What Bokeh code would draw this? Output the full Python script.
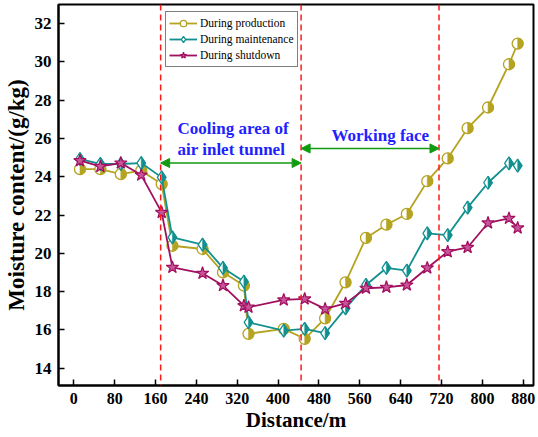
import math

from bokeh.plotting import figure
from bokeh.models import Span, Arrow, NormalHead, Legend, LegendItem, Label, FixedTicker
from bokeh.embed import file_html
from bokeh.resources import INLINE

# Measuring stations along the airway (m) and moisture content (g/kg)
distance = [12, 52, 92, 132, 172, 193, 252, 292, 333, 342, 411, 452, 492,
            532, 572, 612, 652, 692, 732, 771, 811, 852, 869]
production = [24.40, 24.40, 24.14, 24.32, 23.62, 20.40, 20.23, 19.01, 18.32,
              15.80, 16.06, 15.54, 16.61, 18.49, 20.81, 21.50, 22.06, 23.77,
              24.96, 26.54, 27.62, 29.88, 30.96]
maintenance = [24.93, 24.67, 24.67, 24.72, 23.97, 20.84, 20.46, 19.24, 18.53,
               16.40, 15.97, 16.06, 15.83, 17.13, 18.35, 19.24, 19.10, 21.05,
               20.95, 22.39, 23.69, 24.70, 24.58]
shutdown = [24.84, 24.54, 24.72, 24.09, 22.14, 19.27, 18.96, 18.32, 17.27,
            17.19, 17.57, 17.62, 17.10, 17.39, 18.18, 18.23, 18.35, 19.24,
            20.09, 20.31, 21.59, 21.83, 21.33]

series_names = ["During production", "During maintenance", "During shutdown"]
x_ticks = list(range(0, 881, 80))
y_ticks = list(range(14, 33, 2))

# Zone boundaries (m): cooling area of air inlet tunnel, working face
zone_bounds = [170, 445, 715]

X_RANGE = (-30, 900)
Y_RANGE = (13.1, 33.0)
FRAME_W, FRAME_H = 475, 381

FONT = "Liberation Serif"
OLIVE = "#b5a322"
TEAL = "#11908f"
MAGENTA = "#a1105f"
RED = "#ff1a1a"
GREEN = "#109a10"
BLUE = "#1f1fff"

p = figure(frame_width=FRAME_W, frame_height=FRAME_H,
           x_range=X_RANGE, y_range=Y_RANGE,
           output_backend="svg", toolbar_location=None,
           min_border_left=57, min_border_right=6,
           min_border_top=4, min_border_bottom=52,
           background_fill_color="white", border_fill_color="white")

p.grid.visible = False
p.outline_line_color = "black"
p.outline_line_width = 2
p.outline_line_alpha = 1

for ax in (p.xaxis[0], p.yaxis[0]):
    ax.axis_line_width = 2
    ax.major_tick_line_width = 1.5
    ax.major_tick_in = 6
    ax.major_tick_out = 0
    ax.minor_tick_line_color = None
    ax.major_label_text_font = FONT
    ax.major_label_text_font_style = "bold"
    ax.major_label_text_color = "black"
    ax.axis_label_text_font = FONT
    ax.axis_label_text_font_style = "bold"
    ax.axis_label_text_color = "black"

p.xaxis.ticker = FixedTicker(ticks=x_ticks)
p.yaxis.ticker = FixedTicker(ticks=y_ticks)
p.xaxis.major_label_text_font_size = "16px"
p.yaxis.major_label_text_font_size = "17px"
p.xaxis.major_label_standoff = 7
p.yaxis.major_label_standoff = 7
p.xaxis.axis_label = "Distance/m"
p.yaxis.axis_label = "Moisture content/(g/kg)"
p.xaxis.axis_label_text_font_size = "21px"
p.yaxis.axis_label_text_font_size = "23px"
p.xaxis.axis_label_standoff = 1
p.yaxis.axis_label_standoff = 3

# Zone boundary lines
for xb in zone_bounds:
    p.add_layout(Span(location=xb, dimension="height", line_color=RED,
                      line_width=1.5, line_dash="6 4"))

# Pixel scale, used to size the half-filled diamond markers
kx = FRAME_W / (X_RANGE[1] - X_RANGE[0])
ky = FRAME_H / (Y_RANGE[1] - Y_RANGE[0])

# During production: circles with right half filled
l_prod = p.line(distance, production, line_color=OLIVE, line_width=1.8)
m_prod = p.scatter(distance, production, marker="circle", size=11,
                   fill_color="white", line_color=OLIVE, line_width=1.3)
p.wedge(distance, production, radius=5.5, radius_units="screen",
        start_angle=-math.pi / 2, end_angle=math.pi / 2,
        fill_color=OLIVE, line_color=OLIVE, line_width=0.5)

# During maintenance: diamonds with right half filled
DIAMOND = 13
dh = (DIAMOND / 2) / ky
dw = (DIAMOND / 2 / 1.5) / kx
l_main = p.line(distance, maintenance, line_color=TEAL, line_width=1.8)
m_main = p.scatter(distance, maintenance, marker="diamond", size=DIAMOND,
                   fill_color="white", line_color=TEAL, line_width=1.3)
p.patches([[x, x + dw, x] for x in distance],
          [[y + dh, y, y - dh] for y in maintenance],
          fill_color=TEAL, line_color=TEAL, line_width=0.5)

# During shutdown: stars
l_shut = p.line(distance, shutdown, line_color=MAGENTA, line_width=1.8)
m_shut = p.scatter(distance, shutdown, marker="star", size=13,
                   fill_color="#c8559a", line_color=MAGENTA, line_width=1.2)

# Zone arrows
arrow_y = [24.72, 25.48]
for (x0, x1), ya in zip([(zone_bounds[0], zone_bounds[1]),
                         (zone_bounds[1], zone_bounds[2])], arrow_y):
    p.add_layout(Arrow(
        start=NormalHead(size=9, fill_color=GREEN, line_color=GREEN, line_width=1),
        end=NormalHead(size=9, fill_color=GREEN, line_color=GREEN, line_width=1),
        x_start=x0, y_start=ya, x_end=x1, y_end=ya,
        line_color=GREEN, line_width=1.5))

zone_text = [("Cooling area of", 203, 26.51, "left"),
             ("air inlet tunnel", 203, 25.41, "left"),
             ("Working face", 600, 26.14, "center")]
for txt, tx, ty, al in zone_text:
    p.add_layout(Label(x=tx, y=ty, text=txt, text_align=al,
                       text_baseline="middle", text_font=FONT,
                       text_font_style="bold", text_font_size="17px",
                       text_color=BLUE))

legend = Legend(items=[
    LegendItem(label=series_names[0], renderers=[l_prod, m_prod]),
    LegendItem(label=series_names[1], renderers=[l_main, m_main]),
    LegendItem(label=series_names[2], renderers=[l_shut, m_shut]),
], location=(107, 318))
legend.margin = 0
legend.padding = 3
legend.spacing = -2
legend.glyph_width = 28
legend.glyph_height = 16
legend.label_height = 14
legend.label_standoff = 3
legend.label_text_font = FONT
legend.label_text_font_size = "11.5px"
legend.label_text_color = "black"
legend.border_line_color = "black"
legend.border_line_width = 1
legend.background_fill_color = "white"
legend.background_fill_alpha = 1
p.add_layout(legend)

open("out.html", "w").write(file_html(p, INLINE))
